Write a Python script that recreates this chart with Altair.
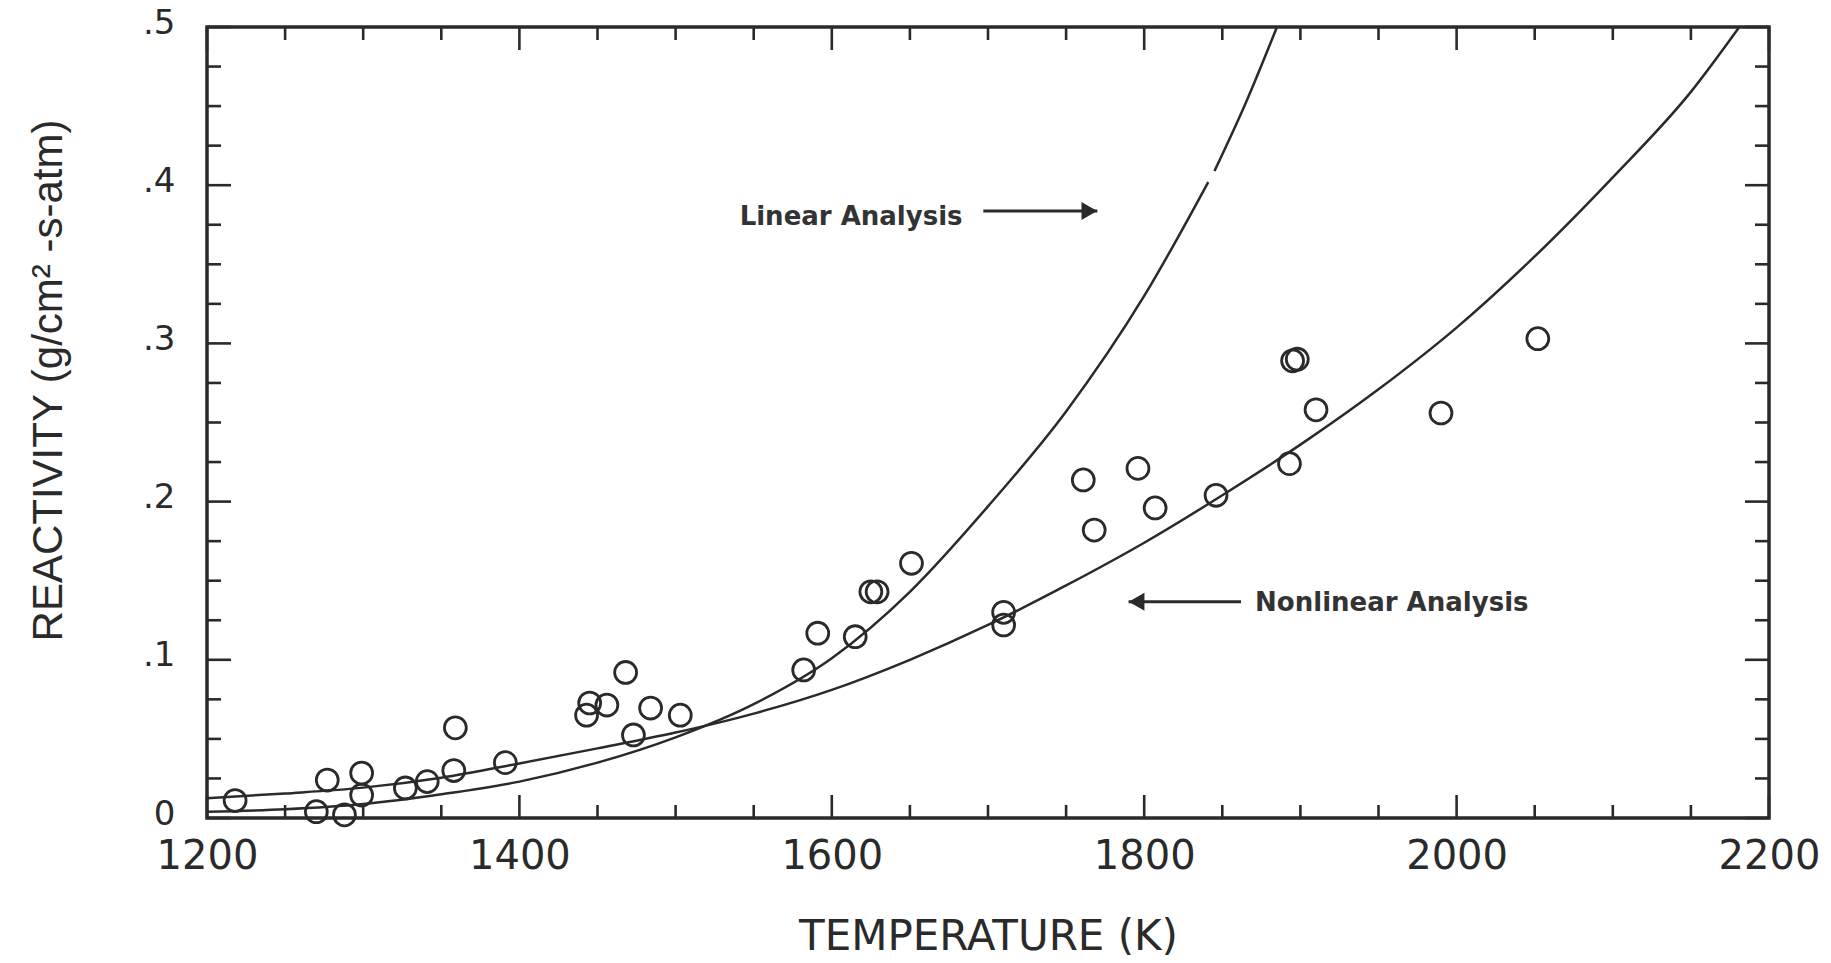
import altair as alt
import pandas as pd

# Measured reactivity: temperature (K) and reactivity (g/cm^2-s-atm)
temperature = [1218, 1270, 1277, 1288, 1299, 1299, 1327, 1341, 1358, 1359, 1391,
               1443, 1445, 1456, 1468, 1473, 1484, 1503,
               1582, 1591, 1615, 1625, 1629, 1651, 1710, 1710,
               1761, 1768, 1796, 1807, 1846, 1893, 1895, 1898, 1910, 1990, 2052]
reactivity = [0.011, 0.004, 0.024, 0.002, 0.0145, 0.0284, 0.019, 0.023, 0.030, 0.057, 0.035,
              0.065, 0.0727, 0.0714, 0.092, 0.0525, 0.0695, 0.065,
              0.0936, 0.1168, 0.1146, 0.143, 0.143, 0.161, 0.130, 0.122,
              0.2137, 0.182, 0.221, 0.196, 0.204, 0.224, 0.289, 0.290, 0.258, 0.256, 0.303]

# Linear-analysis fit (drawn in two pieces, the print has a small break near .4)
linear_t = [1200, 1250, 1300, 1350, 1400, 1450, 1500, 1550, 1600, 1650, 1700, 1750, 1800, 1841,
            1845, 1865, 1885]
linear_r = [0.004, 0.0055, 0.0088, 0.0150, 0.023, 0.035, 0.051, 0.072, 0.101, 0.143, 0.197, 0.257, 0.330, 0.402,
            0.409, 0.452, 0.500]
linear_piece = ["a"] * 14 + ["b"] * 3

# Nonlinear-analysis fit
nonlinear_t = [1200, 1250, 1300, 1350, 1400, 1450, 1500, 1550, 1600, 1650, 1700, 1750,
               1800, 1850, 1900, 1950, 2000, 2050, 2100, 2150, 2181]
nonlinear_r = [0.0125, 0.0155, 0.0192, 0.0255, 0.0345, 0.044, 0.054, 0.066, 0.081, 0.100, 0.122, 0.147,
               0.174, 0.204, 0.236, 0.271, 0.310, 0.355, 0.405, 0.459, 0.500]

# Axis ticks
x_major = [1200, 1400, 1600, 1800, 2000, 2200]
x_minor = [t for t in range(1250, 2200, 50) if t % 200 != 0]
y_major = [0.0, 0.1, 0.2, 0.3, 0.4, 0.5]
y_minor = [round(0.025 * k, 3) for k in range(1, 20) if k % 4 != 0]

# Callouts
note_text = ["Linear Analysis", "Nonlinear Analysis"]
note_t = [1541, 1871]
note_r = [0.380, 0.136]
arrow_from = [1697, 1862]
arrow_to = [1770, 1790]
arrow_r = [0.3837, 0.1367]

W, H = 1562, 791
FONT = "DejaVu Sans"
INK = "#2a2a2a"

x_scale = alt.Scale(domain=[1200, 2200], nice=False, zero=False)
y_scale = alt.Scale(domain=[0, 0.5], nice=False)

points_df = pd.DataFrame({"T": temperature, "R": reactivity})
linear_df = pd.DataFrame({"T": linear_t, "R": linear_r, "piece": linear_piece})
nonlinear_df = pd.DataFrame({"T": nonlinear_t, "R": nonlinear_r})
notes_df = pd.DataFrame({"T": note_t, "R": note_r, "label": note_text})
arrows_df = pd.DataFrame({"T0": arrow_from, "T1": arrow_to, "R": arrow_r})

x_axis = alt.Axis(
    values=x_major, format="d", ticks=False, domain=False, grid=False,
    labelFont=FONT, labelFontSize=40, labelColor=INK, labelPadding=18,
    labelFlush=False, labelOverlap=False,
    title="TEMPERATURE (K)", titleFont=FONT, titleFontSize=42, titleFontWeight="normal",
    titleColor=INK, titleBaseline="alphabetic", titleX=W / 2, titleY=131,
)
y_axis = alt.Axis(
    values=y_major, ticks=False, domain=False, grid=False,
    labelExpr="datum.value == 0 ? '0' : replace(format(datum.value, '.1f'), '0.', '.')",
    labelFont=FONT, labelFontSize=34, labelColor=INK, labelPadding=32, labelOffset=-4,
    labelFlush=False, labelOverlap=False,
    title="REACTIVITY  (g/cm²   -s-atm)", titleFont="Liberation Sans", titleFontSize=42,
    titleFontWeight="normal", titleColor=INK, titleAngle=270, titleAlign="center",
    titleBaseline="middle", titleX=-159, titleY=353,
)

X = lambda f: alt.X(f, scale=x_scale)
Y = lambda f: alt.Y(f, scale=y_scale)

points = alt.Chart(points_df).mark_point(
    shape="circle", filled=False, size=480, strokeWidth=2.8, color=INK, opacity=1, clip=False
).encode(
    x=alt.X("T:Q", scale=x_scale, axis=x_axis),
    y=alt.Y("R:Q", scale=y_scale, axis=y_axis),
)

linear = alt.Chart(linear_df).mark_line(
    interpolate="monotone", strokeWidth=2.5, color=INK
).encode(x=X("T:Q"), y=Y("R:Q"), detail="piece:N")

nonlinear = alt.Chart(nonlinear_df).mark_line(
    interpolate="monotone", strokeWidth=2.5, color=INK
).encode(x=X("T:Q"), y=Y("R:Q"))


def tick_rules(values, channel, side, length):
    df = pd.DataFrame({"v": values})
    rule = alt.Chart(df).mark_rule(color=INK, strokeWidth=2.6)
    if channel == "x":
        y0, y1 = (H, H - length) if side == "bottom" else (0, length)
        return rule.encode(x=X("v:Q"), y=alt.value(y0), y2=alt.value(y1))
    x0, x1 = (0, length) if side == "left" else (W, W - length)
    return rule.encode(y=Y("v:Q"), x=alt.value(x0), x2=alt.value(x1))


ticks = [
    tick_rules(x_major, "x", "bottom", 23), tick_rules(x_minor, "x", "bottom", 13),
    tick_rules(x_major, "x", "top", 23), tick_rules(x_minor, "x", "top", 13),
    tick_rules(y_major, "y", "left", 24), tick_rules(y_minor, "y", "left", 14),
    tick_rules(y_major, "y", "right", 24), tick_rules(y_minor, "y", "right", 14),
]

notes = alt.Chart(notes_df).mark_text(
    align="left", baseline="middle", font=FONT, fontSize=26, fontWeight="bold", color="#333333"
).encode(x=X("T:Q"), y=Y("R:Q"), text="label:N")

shafts = alt.Chart(arrows_df).mark_rule(color=INK, strokeWidth=3).encode(
    x=X("T0:Q"), x2="T1:Q", y=Y("R:Q")
)

head_right = alt.Chart(arrows_df.iloc[[0]]).mark_point(
    shape="triangle-right", filled=True, size=330, color=INK, opacity=1, xOffset=-8
).encode(x=X("T1:Q"), y=Y("R:Q"))
head_left = alt.Chart(arrows_df.iloc[[1]]).mark_point(
    shape="triangle-left", filled=True, size=330, color=INK, opacity=1, xOffset=8
).encode(x=X("T1:Q"), y=Y("R:Q"))

chart = alt.layer(
    points, nonlinear, linear, *ticks, shafts, head_right, head_left, notes
).properties(
    width=W, height=H,
    autosize=alt.AutoSizeParams(type="none"),
    padding={"left": 207, "top": 27, "right": 62, "bottom": 145},
    background="white",
).configure_view(stroke=INK, strokeWidth=3.5)

chart.save("out.html", embed_options={"renderer": "svg", "actions": False})
